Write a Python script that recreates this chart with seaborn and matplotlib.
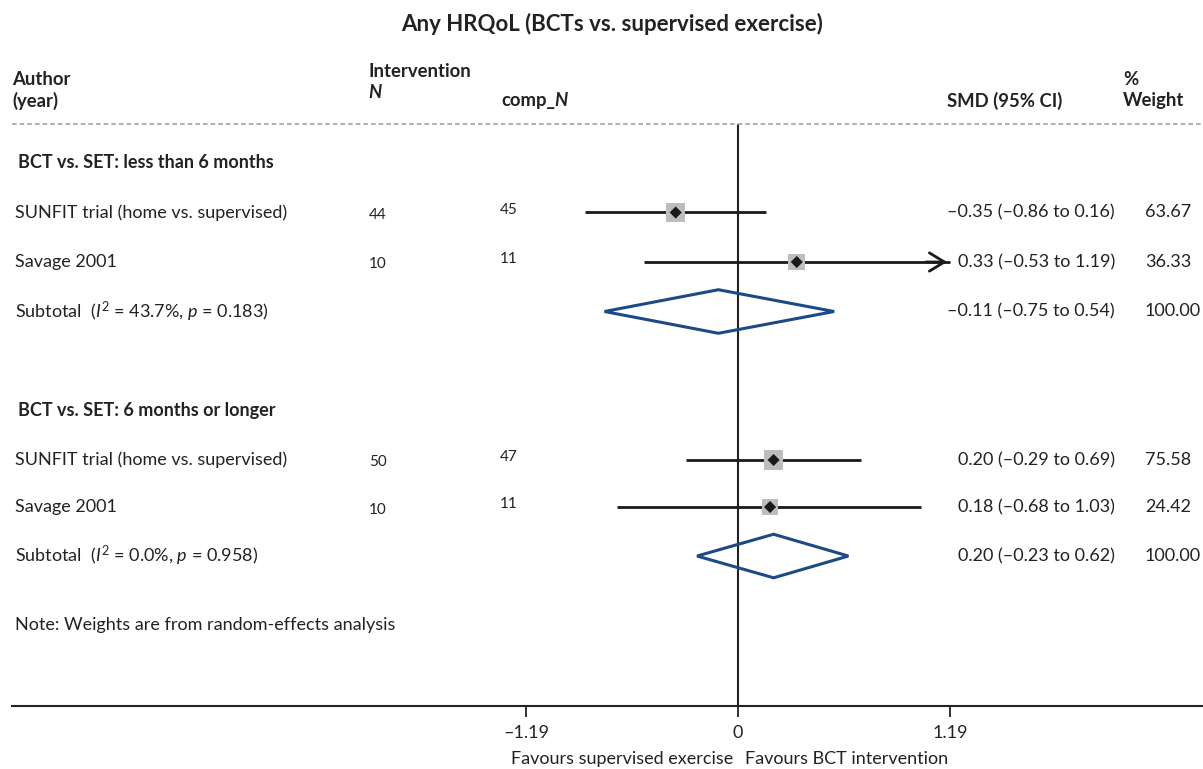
import numpy as np
import pandas as pd
import matplotlib
matplotlib.use("Agg")
import matplotlib.pyplot as plt
import seaborn as sns
from matplotlib.patches import Polygon

# ---------------- data ----------------
title = "Any HRQoL (BCTs vs. supervised exercise)"
group_labels = ["BCT vs. SET: less than 6 months", "BCT vs. SET: 6 months or longer"]
study_names = ["SUNFIT trial (home vs. supervised)", "Savage 2001",
               "SUNFIT trial (home vs. supervised)", "Savage 2001"]
study_group = [0, 0, 1, 1]
int_n = [44, 10, 50, 10]
comp_n = [45, 11, 47, 11]
smd = [-0.35, 0.33, 0.20, 0.18]
ci_lo = [-0.86, -0.53, -0.29, -0.68]
ci_hi = [0.16, 1.19, 0.69, 1.03]
weight = [63.67, 36.33, 75.58, 24.42]
sub_labels = ["Subtotal  ($\\mathit{I}^2$ = 43.7%, $\\mathit{p}$ = 0.183)",
              "Subtotal  ($\\mathit{I}^2$ = 0.0%, $\\mathit{p}$ = 0.958)"]
sub_smd = [-0.11, 0.20]
sub_lo = [-0.75, -0.23]
sub_hi = [0.54, 0.62]
sub_weight = [100.00, 100.00]
xticks = [-1.19, 0, 1.19]
xtick_labels = ["\u20131.19", "0", "1.19"]
note = "Note: Weights are from random-effects analysis"
favours_left = "Favours supervised exercise"
favours_right = "Favours BCT intervention"

# ---------------- layout ----------------
W, H = 1203, 769
sns.set_theme(style="white")
plt.rcParams['font.family'] = ['Lato', 'DejaVu Sans']
plt.rcParams['mathtext.fontset'] = 'custom'
plt.rcParams['mathtext.rm'] = 'Lato'
plt.rcParams['mathtext.it'] = 'Lato:italic'
plt.rcParams['mathtext.bf'] = 'Lato:bold'

fig = plt.figure(figsize=(W / 100, H / 100), dpi=100)
ax_left_px, ax_right_px, ax_top_px, ax_bot_px = 12, 1203, 40, 706
ax = fig.add_axes([ax_left_px / W, 1 - ax_bot_px / H,
                   (ax_right_px - ax_left_px) / W, (ax_bot_px - ax_top_px) / H])

zero_px, unit_px = 738, 178.0
def px2x(p):
    return (p - zero_px) / unit_px
def py2row(p):
    return (p - 163) / 49.5 + 1

ax.set_xlim(px2x(ax_left_px), px2x(ax_right_px))
ax.set_ylim(py2row(ax_bot_px), py2row(ax_top_px))

group_rows = [1, 6]
study_rows = [2, 3, 7, 7.95]
sub_rows = [4, 8.94]

df = pd.DataFrame({"name": study_names, "group": study_group, "n1": int_n, "n2": comp_n,
                   "smd": smd, "lo": ci_lo, "hi": ci_hi, "w": weight, "row": study_rows})

txt_col = "#222222"
fs = 13
fs_small = 11
fs_hdr = 13.3

fig.text(612 / W, 1 - 24 / H, title, ha="center", va="center", fontsize=16, fontweight="bold", color=txt_col)
hdr_y1, hdr_y2 = py2row(80), py2row(101)
ax.text(px2x(12), hdr_y1, "Author", fontsize=fs_hdr, fontweight="bold", va="center", color=txt_col)
ax.text(px2x(12), hdr_y2, "(year)", fontsize=fs_hdr, fontweight="bold", va="center", color=txt_col)
ax.text(px2x(368), py2row(72), "Intervention", fontsize=fs_hdr, fontweight="bold", va="center", color=txt_col)
ax.text(px2x(368), py2row(93), "N", fontsize=fs_hdr, fontweight="bold", fontstyle="italic", va="center", color=txt_col)
t_comp = ax.text(px2x(501), hdr_y2, "comp_", fontsize=fs_hdr, fontweight="bold", va="center", color=txt_col)
fig.canvas.draw()
ext = t_comp.get_window_extent()
ax.text(px2x(ext.x1 - 1), hdr_y2, "N", fontsize=fs_hdr, fontweight="bold", fontstyle="italic",
        va="center", color=txt_col)
ax.text(px2x(1062), hdr_y2, "SMD (95% CI)", fontsize=fs_hdr, fontweight="bold", va="center", ha="right", color=txt_col)
ax.text(px2x(1123), hdr_y1, "%", fontsize=fs_hdr, fontweight="bold", va="center", color=txt_col)
ax.text(px2x(1123), hdr_y2, "Weight", fontsize=fs_hdr, fontweight="bold", va="center", color=txt_col)
ax.plot([px2x(12), px2x(1203)], [py2row(124)] * 2, ls=(0, (3, 2)), color="#9a9a9a", lw=1.1,
        clip_on=False)

ax.plot([0, 0], [py2row(125), py2row(ax_bot_px)], color="#222222", lw=1.5, zorder=1)

def fmt(v):
    s = f"{abs(v):.2f}"
    return ("\u2013" + s) if v < 0 else s

for g, r in zip(group_labels, group_rows):
    ax.text(px2x(18), r, g, fontsize=13, fontweight="bold", va="center", color=txt_col)

xmax_tick = max(xticks)
for _, d in df.iterrows():
    r = d["row"]
    ax.text(px2x(15), r, d["name"], fontsize=fs, va="center", color=txt_col)
    ax.text(px2x(369), r + 0.05, str(d["n1"]), fontsize=fs_small, va="center", color=txt_col)
    ax.text(px2x(500), r - 0.06, str(d["n2"]), fontsize=fs_small, va="center", color=txt_col)
    ax.text(px2x(1115), r, f"{fmt(d['smd'])} ({fmt(d['lo'])} to {fmt(d['hi'])})", fontsize=fs,
            va="center", ha="right", color=txt_col)
    ax.text(px2x(1145), r, f"{d['w']:.2f}", fontsize=fs, va="center", color=txt_col)
    hi = min(d["hi"], xmax_tick)
    ax.plot([d["lo"], hi], [r, r], color="#1a1a1a", lw=2.0, zorder=2, solid_capstyle="butt")
    if d["hi"] >= xmax_tick:
        ax.annotate("", xy=(hi, r), xytext=(hi - 0.15, r),
                    arrowprops=dict(arrowstyle="->,head_length=0.9,head_width=0.55", color="#1a1a1a", lw=2.0))

df["side"] = 10 + 1.1 * np.sqrt(df["w"])
df["area"] = (df["side"] * 0.72) ** 2
sns.scatterplot(data=df, x="smd", y="row", marker="s", s=df["area"].values, color="#bdbdbd",
                edgecolor="none", ax=ax, zorder=3, legend=False)
sns.scatterplot(data=df, x="smd", y="row", marker="D", s=38, color="#1a1a1a",
                edgecolor="none", ax=ax, zorder=4, legend=False)

for lab, r, m, lo, hi, w in zip(sub_labels, sub_rows, sub_smd, sub_lo, sub_hi, sub_weight):
    ax.text(px2x(15), r, lab, fontsize=fs, va="center", color=txt_col)
    ax.text(px2x(1115), r, f"{fmt(m)} ({fmt(lo)} to {fmt(hi)})", fontsize=fs, va="center", ha="right", color=txt_col)
    ax.text(px2x(1145), r, f"{w:.2f}", fontsize=fs, va="center", color=txt_col)
    hh = 0.44
    ax.add_patch(Polygon([[lo, r], [m, r - hh], [hi, r], [m, r + hh]], closed=True,
                         fill=False, edgecolor="#1c4a86", lw=2.2, zorder=3))

ax.text(px2x(15), py2row(625), note, fontsize=fs, va="center", color=txt_col)

for s in ["left", "top", "right"]:
    ax.spines[s].set_visible(False)
ax.spines["bottom"].set_color("#222222")
ax.spines["bottom"].set_linewidth(1.5)
ax.set_yticks([])
ax.set_xticks(xticks)
ax.set_xticklabels(xtick_labels, fontsize=13, color=txt_col)
ax.tick_params(axis="x", direction="out", length=8, width=1.3, color="#222222", pad=6, bottom=True)
ax.set_xlabel("")
ax.set_ylabel("")

fig.text(733 / W, 1 - 759 / H, favours_left, ha="right", va="center", fontsize=13, color=txt_col)
fig.text(745 / W, 1 - 759 / H, favours_right, ha="left", va="center", fontsize=13, color=txt_col)

fig.savefig("out.png", dpi=100)
